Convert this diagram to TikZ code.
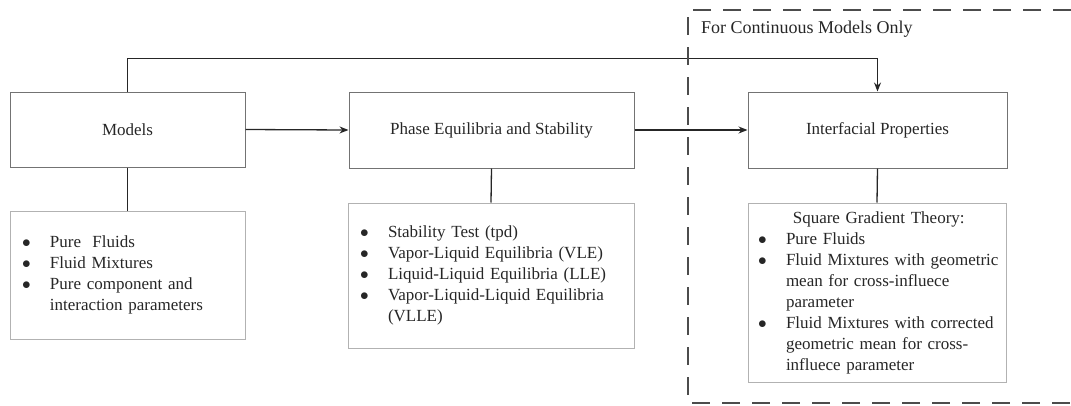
\documentclass[tikz,border=0pt]{standalone}
\usepackage{fontspec}
\setmainfont{Liberation Serif}
\usetikzlibrary{arrows.meta}

\tikzset{
  block/.style={draw=black!55, line width=1pt, inner sep=0pt, text=black!85,
    font=\fontsize{17}{21}\selectfont},
  listbox/.style={draw=black!30, line width=1pt, inner xsep=13pt, inner ysep=0pt,
    align=left, text=black!85, font=\fontsize{17}{21}\selectfont},
  link/.style={line width=1.3pt, black!85},
  arr/.style={link, -{Stealth[length=9pt,width=7pt]}},
  region/.style={dash pattern=on 18pt off 12pt, line width=1.2pt, black!70}
}
\newcommand{\itm}{\hspace{-1pt}$\bullet$}

\begin{document}
\begin{tikzpicture}[x=1pt, y=-1pt]
\useasboundingbox (0,0) rectangle (1071,405);

% main blocks
\node[block, minimum width=235pt, minimum height=75pt] (models) at (127.5,129.5) {Models};
\node[block, minimum width=285pt, minimum height=76pt] (phase) at (491.5,130) {Phase Equilibria and Stability};
\node[block, minimum width=259pt, minimum height=76pt] (props) at (877.5,130) {Interfacial Properties};

% lists under the blocks
\node[listbox, text width=209pt, minimum height=128pt] (modlist) at (127.5,275) {%
  \begin{tabular}{@{}p{27pt}@{}l@{}}
  \itm & Pure~~Fluids\\
  \itm & Fluid Mixtures\\
  \itm & Pure component and\\
       & interaction parameters
  \end{tabular}};
\node[listbox, text width=260pt, minimum height=145pt] (phaselist) at (491,275.5) {%
  \begin{tabular}{@{}p{27pt}@{}l@{}}
  \itm & Stability Test (tpd)\\
  \itm & Vapor-Liquid Equilibria (VLE)\\
  \itm & Liquid-Liquid Equilibria (LLE)\\
  \itm & Vapor-Liquid-Liquid Equilibria\\
       & (VLLE)
  \end{tabular}};
\node[listbox, inner xsep=11pt, text width=236pt, minimum height=179pt] (proplist) at (877,292.5) {%
  \begin{tabular}{@{}p{27pt}@{}l@{}}
  \multicolumn{2}{c}{Square Gradient Theory:}\\
  \itm & Pure Fluids\\
  \itm & Fluid Mixtures with geometric\\
       & mean for cross-influece\\
       & parameter\\
  \itm & Fluid Mixtures with corrected\\
       & geometric mean for cross-\\
       & influece parameter
  \end{tabular}};

% connectors
\draw[arr] (models.east) -- (phase.west);
\draw[arr] (phase.east) -- (props.west);
\draw[arr] (models.north) -- ++(0,-33) -| (props.north);
\draw[link] (models.south) -- (modlist.north);
\draw[link] (phase.south) -- (phaselist.north);
\draw[link] (props.south) -- (proplist.north);

% continuous-only region
\draw[region] (1071,10) -| (688,403) -- (1071,403);
\node[anchor=west, inner sep=0pt, text=black!85, font=\fontsize{18}{21}\selectfont] (contlabel) at (701,29) {For Continuous Models Only};
\end{tikzpicture}
\end{document}
